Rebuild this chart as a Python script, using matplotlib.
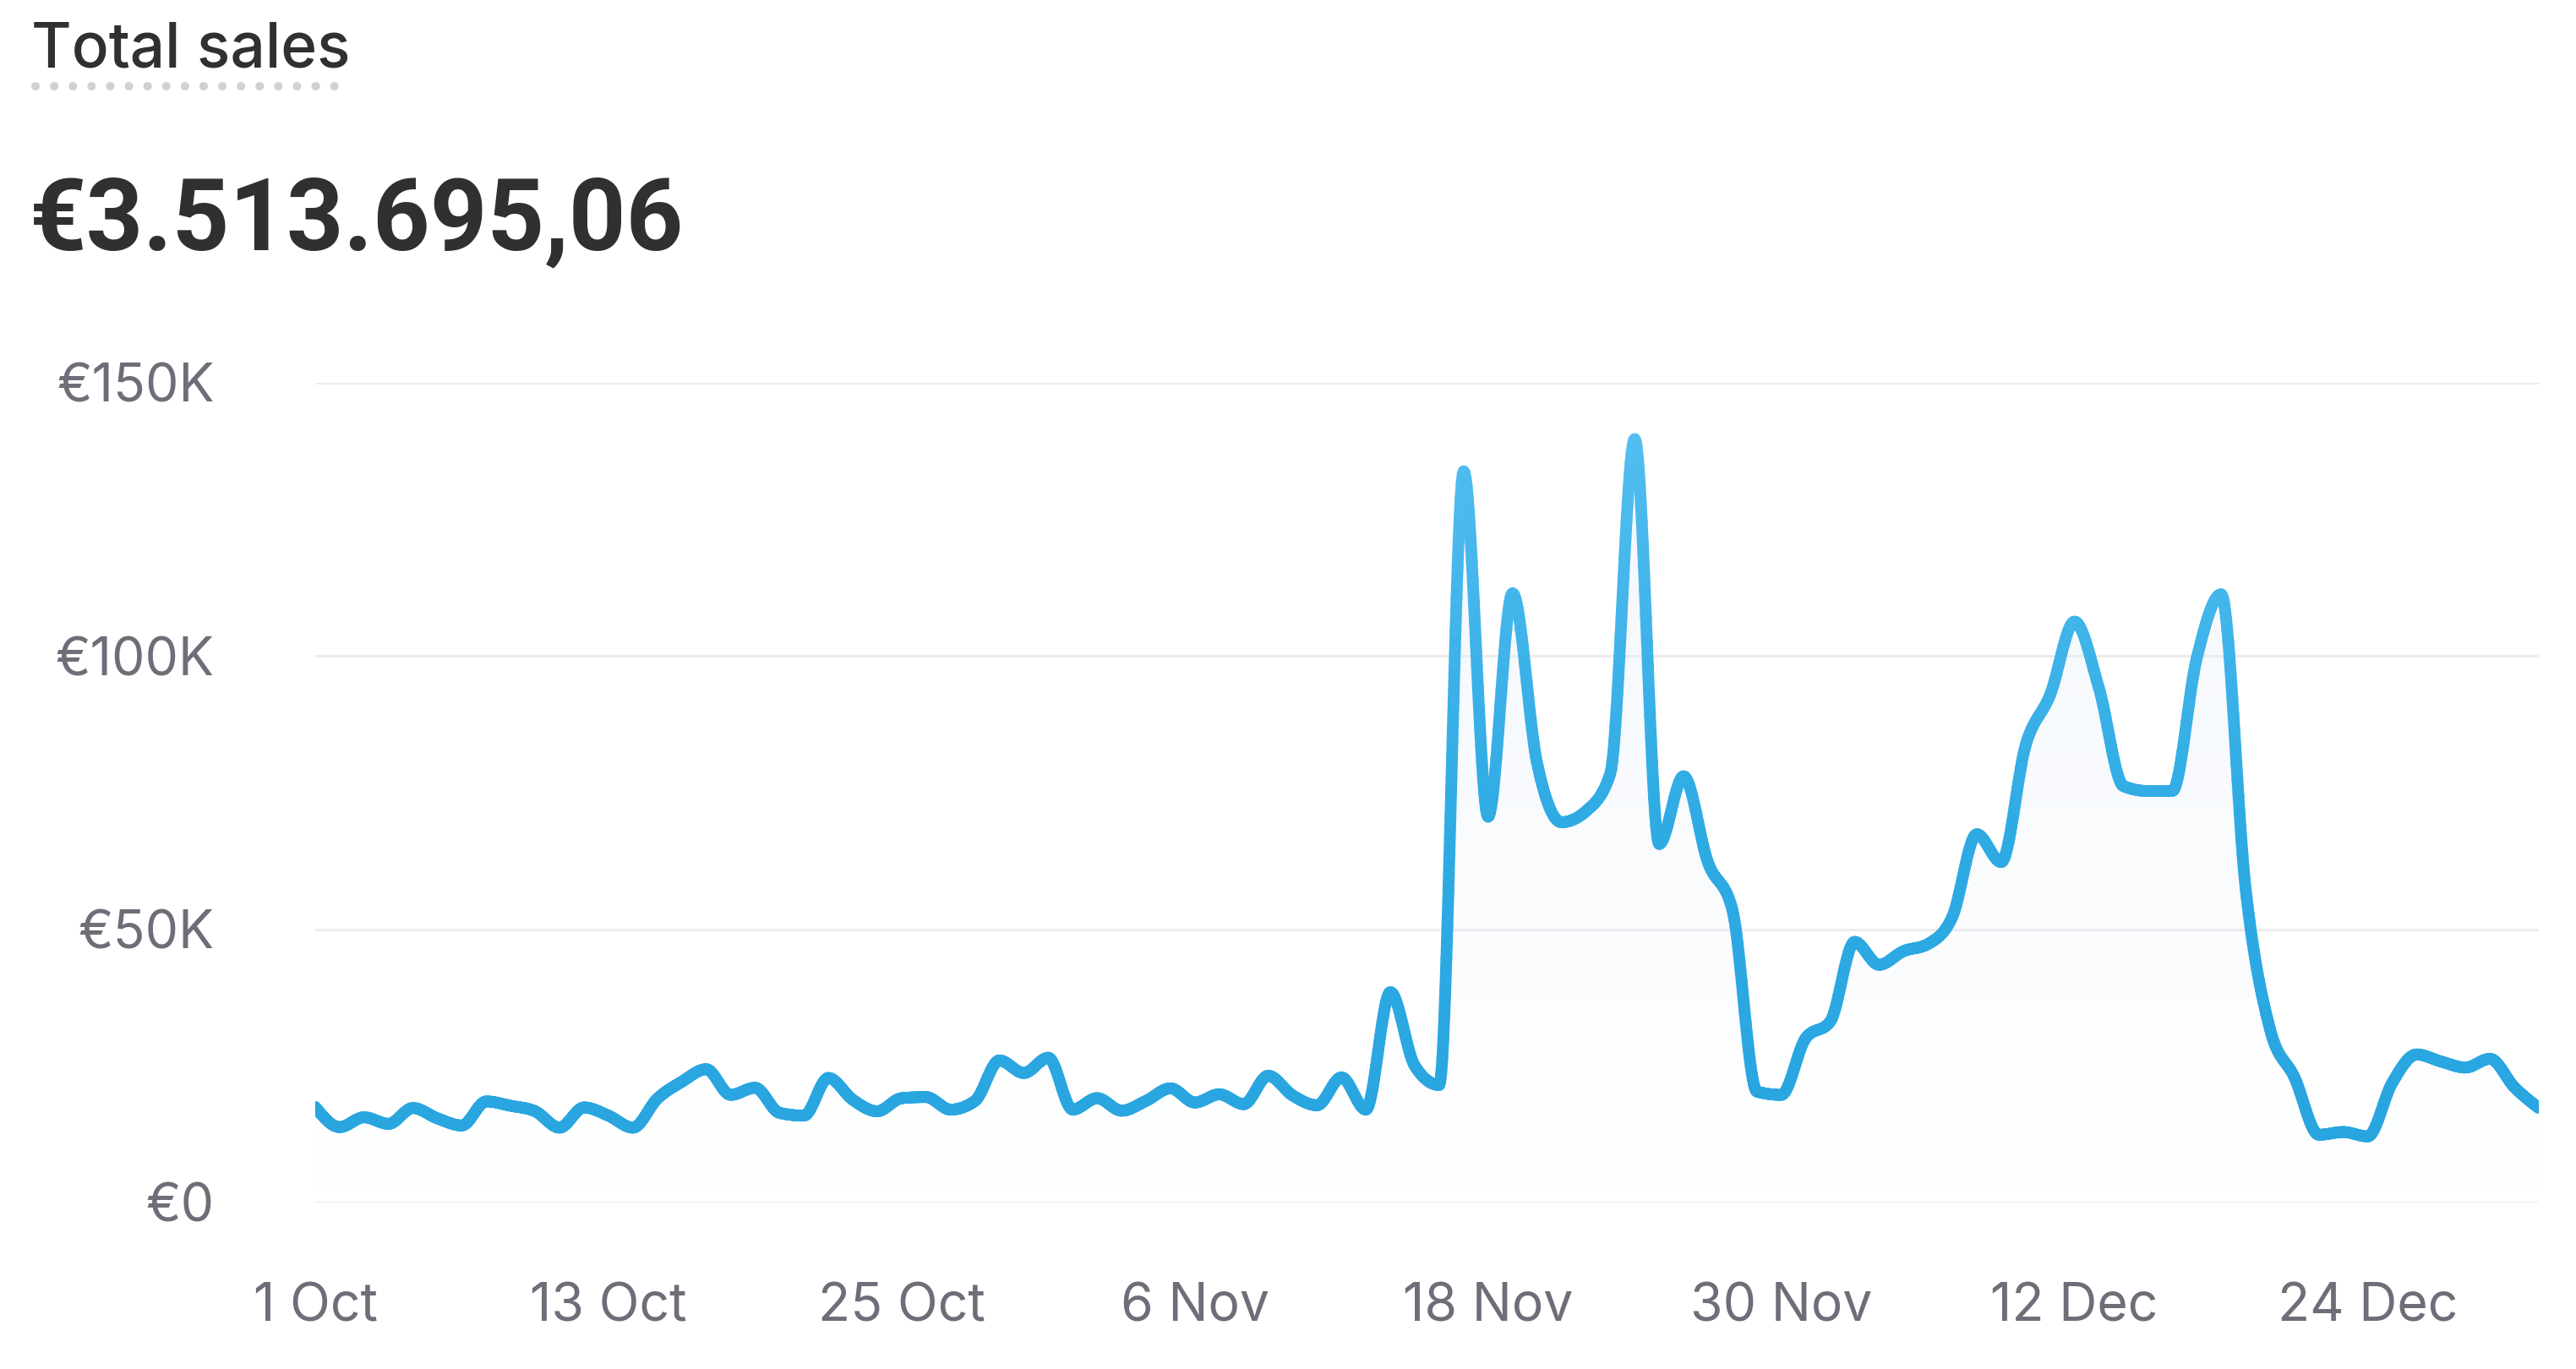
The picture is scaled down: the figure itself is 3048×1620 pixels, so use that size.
import numpy as np
import matplotlib
matplotlib.use("Agg")
import matplotlib.pyplot as plt
from matplotlib.collections import LineCollection
from matplotlib.colors import LinearSegmentedColormap, to_rgba

plt.rcParams['font.family'] = ['Inter', 'DejaVu Sans']

# daily total sales, 1 Oct - 31 Dec, in thousands of euro
sales_k = [17.5, 13.8, 15.6, 14.4, 17.3, 15.4, 14.1, 18.5, 17.7, 16.7,
           13.7, 17.4, 15.9, 13.7, 19.0, 22.1, 24.4, 19.7, 21.0, 16.4,
           15.9, 22.8, 18.8, 16.7, 19.1, 19.3, 17.0, 18.6, 26.0, 23.7,
           26.5, 17.0, 19.1, 16.8, 18.6, 20.9, 18.3, 19.8, 18.0, 23.2,
           19.6, 17.8, 22.9, 17.0, 38.5, 25.0, 21.5, 133.8, 70.6, 111.5,
           80.5, 69.6, 71.6, 78.5, 139.7, 65.6, 78.0, 62.2, 53.5, 20.3,
           19.7, 30.1, 33.1, 47.7, 43.5, 46.0, 47.3, 52.3, 67.4, 62.3,
           83.7, 92.9, 106.3, 94.1, 76.2, 75.3, 75.3, 99.6, 111.3, 57.5,
           31.7, 22.9, 12.4, 12.9, 12.1, 21.9, 27.1, 25.8, 24.7, 26.3,
           21.1, 17.3]
days = np.arange(len(sales_k))

tick_days = [0, 12, 24, 36, 48, 60, 72, 84]
tick_labels = ["1 Oct", "13 Oct", "25 Oct", "6 Nov", "18 Nov", "30 Nov", "12 Dec", "24 Dec"]
y_ticks = [0, 50, 100, 150]
y_labels = ["€0", "€50K", "€100K", "€150K"]

title = "Total sales"
total = "€3.513.695,06"


# monotone cubic curve through the daily points (like d3.curveMonotoneX)
def monotone(x, y, n=24):
    x = np.asarray(x, float)
    y = np.asarray(y, float)
    s = np.diff(y) / np.diff(x)
    t = np.zeros_like(y)
    for i in range(1, len(y) - 1):
        s0, s1 = s[i - 1], s[i]
        p = (s0 + s1) / 2
        t[i] = (np.sign(s0) + np.sign(s1)) * min(abs(s0), abs(s1), 0.5 * abs(p))
    t[0] = (3 * s[0] - t[1]) / 2
    t[-1] = (3 * s[-1] - t[-2]) / 2
    xs, ys = [], []
    for i in range(len(y) - 1):
        h = x[i + 1] - x[i]
        u = np.linspace(0, 1, n, endpoint=False)
        h00 = 2 * u**3 - 3 * u**2 + 1
        h10 = u**3 - 2 * u**2 + u
        h01 = -2 * u**3 + 3 * u**2
        h11 = u**3 - u**2
        xs.append(x[i] + u * h)
        ys.append(h00 * y[i] + h10 * h * t[i] + h01 * y[i + 1] + h11 * h * t[i + 1])
    xs.append([x[-1]])
    ys.append([y[-1]])
    return np.concatenate(xs), np.concatenate(ys)


fig = plt.figure(figsize=(15.24, 8.1), dpi=200)
ax = fig.add_axes([373 / 3048, 197 / 1620, (3004 - 373) / 3048, (1423 - 453) / 1620])

xs, ys = monotone(days, sales_k)

# soft gradient fill under the curve
fill = ax.fill_between(xs, ys, 0, color="none", lw=0)
grad = np.zeros((256, 2, 4))
grad[..., :3] = to_rgba("#dde9f7")[:3]
grad[..., 3] = np.linspace(0.0, 0.35, 256)[:, None]
img = ax.imshow(grad, extent=[0, days[-1], 0, max(sales_k)], origin="lower",
                aspect="auto", zorder=1)
img.set_clip_path(fill.get_paths()[0], transform=ax.transData)

# line coloured by height
cmap = LinearSegmentedColormap.from_list("blu", ["#27a4de", "#2fabe4", "#52bdf0"])
pts = np.column_stack([xs, ys]).reshape(-1, 1, 2)
segs = np.concatenate([pts[:-1], pts[1:]], axis=1)
lc = LineCollection(segs, cmap=cmap, norm=plt.Normalize(0, 140), linewidth=5.0,
                    capstyle="round", joinstyle="round", zorder=3)
lc.set_array((ys[:-1] + ys[1:]) / 2)
ax.add_collection(lc)

for yv in y_ticks:
    ax.axhline(yv, color="#ececef", lw=1.1, zorder=0)

ax.set_xlim(0, days[-1])
ax.set_ylim(0, 150)
ax.set_yticks(y_ticks)
ax.set_yticklabels(y_labels)
ax.set_xticks(tick_days)
ax.set_xticklabels(tick_labels)
ax.tick_params(axis="y", length=0, pad=43, labelsize=22.5, labelcolor="#6d6e78")
ax.tick_params(axis="x", length=0, pad=34, labelsize=22.5, labelcolor="#6d6e78")
for sp in ax.spines.values():
    sp.set_visible(False)

fig.text(37 / 3048, 1 - 80 / 1620, title, fontsize=26.3, color="#303030",
         fontweight="medium", ha="left", va="baseline")
fig.add_artist(plt.Line2D([42 / 3048, 414 / 3048], [1 - 102 / 1620] * 2,
                          transform=fig.transFigure, color="#d0d1d5", lw=3.6,
                          linestyle=(0, (0.01, 2.2)), dash_capstyle="round"))
fig.text(35 / 3048, 1 - 295 / 1620, total, fontsize=42.5, color="#303030",
         fontweight="bold", ha="left", va="baseline",
         family=["Roboto", "DejaVu Sans"])

fig.savefig("out.png", dpi=200, facecolor="white")
